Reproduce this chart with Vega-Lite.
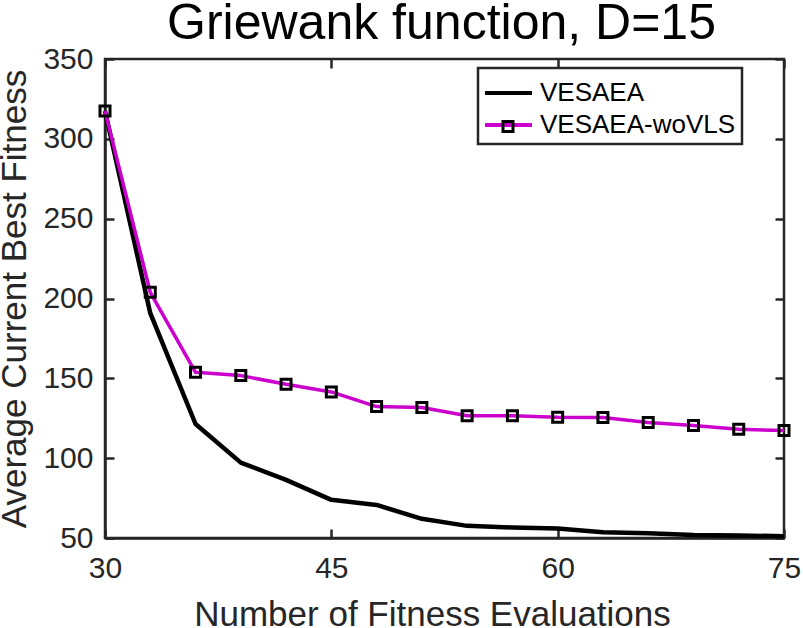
{
  "$schema": "https://vega.github.io/schema/vega-lite/v6.json",
  "width": 679,
  "height": 479,
  "autosize": {"type": "none"},
  "padding": {"left": 105, "top": 59, "right": 19, "bottom": 90},
  "background": "white",
  "title": {
    "text": "Griewank function, D=15",
    "font": "Liberation Sans",
    "fontSize": 50,
    "fontWeight": "normal",
    "color": "#000000",
    "anchor": "middle",
    "baseline": "alphabetic",
    "offset": 21,
    "dy": 66,
    "dx": -3
  },
  "config": {
    "view": {"stroke": "#262626", "strokeWidth": 2.5},
    "axis": {
      "labelFont": "Liberation Sans",
      "titleFont": "Liberation Sans",
      "labelFontSize": 30,
      "titleFontSize": 35,
      "titleFontWeight": "normal",
      "labelColor": "#262626",
      "titleColor": "#262626",
      "domainColor": "#262626",
      "domainWidth": 2.5,
      "tickColor": "#262626",
      "tickWidth": 2.5,
      "tickSize": -9,
      "labelFlush": false,
      "grid": false
    }
  },
  "data": {
    "values": [
      {"evals": 30, "fitness": 317.4, "series": "VESAEA"},
      {"evals": 33, "fitness": 190.8, "series": "VESAEA"},
      {"evals": 36, "fitness": 121.4, "series": "VESAEA"},
      {"evals": 39, "fitness": 97.2, "series": "VESAEA"},
      {"evals": 42, "fitness": 86.4, "series": "VESAEA"},
      {"evals": 45, "fitness": 73.9, "series": "VESAEA"},
      {"evals": 48, "fitness": 70.7, "series": "VESAEA"},
      {"evals": 51, "fitness": 62.0, "series": "VESAEA"},
      {"evals": 54, "fitness": 57.6, "series": "VESAEA"},
      {"evals": 57, "fitness": 56.6, "series": "VESAEA"},
      {"evals": 60, "fitness": 56.0, "series": "VESAEA"},
      {"evals": 63, "fitness": 53.6, "series": "VESAEA"},
      {"evals": 66, "fitness": 52.9, "series": "VESAEA"},
      {"evals": 69, "fitness": 51.9, "series": "VESAEA"},
      {"evals": 72, "fitness": 51.6, "series": "VESAEA"},
      {"evals": 75, "fitness": 51.1, "series": "VESAEA"},
      {"evals": 30, "fitness": 317.4, "series": "VESAEA-woVLS"},
      {"evals": 33, "fitness": 203.9, "series": "VESAEA-woVLS"},
      {"evals": 36, "fitness": 153.8, "series": "VESAEA-woVLS"},
      {"evals": 39, "fitness": 151.7, "series": "VESAEA-woVLS"},
      {"evals": 42, "fitness": 146.3, "series": "VESAEA-woVLS"},
      {"evals": 45, "fitness": 141.5, "series": "VESAEA-woVLS"},
      {"evals": 48, "fitness": 132.3, "series": "VESAEA-woVLS"},
      {"evals": 51, "fitness": 131.7, "series": "VESAEA-woVLS"},
      {"evals": 54, "fitness": 126.6, "series": "VESAEA-woVLS"},
      {"evals": 57, "fitness": 126.6, "series": "VESAEA-woVLS"},
      {"evals": 60, "fitness": 125.6, "series": "VESAEA-woVLS"},
      {"evals": 63, "fitness": 125.4, "series": "VESAEA-woVLS"},
      {"evals": 66, "fitness": 122.3, "series": "VESAEA-woVLS"},
      {"evals": 69, "fitness": 120.4, "series": "VESAEA-woVLS"},
      {"evals": 72, "fitness": 118.1, "series": "VESAEA-woVLS"},
      {"evals": 75, "fitness": 117.3, "series": "VESAEA-woVLS"}
    ]
  },
  "layer": [
    {
      "transform": [{"filter": "datum.series === 'VESAEA'"}],
      "mark": {"type": "line", "strokeWidth": 4.5, "strokeJoin": "round"},
      "encoding": {
        "x": {
          "field": "evals",
          "type": "quantitative",
          "scale": {"domain": [30, 75], "nice": false, "zero": false},
          "axis": {
            "orient": "bottom",
            "values": [30, 45, 60, 75],
            "title": "Number of Fitness Evaluations",
            "labelPadding": 24,
            "titleBaseline": "alphabetic",
            "titleX": 327,
            "titleY": 87
          }
        },
        "y": {
          "field": "fitness",
          "type": "quantitative",
          "scale": {"domain": [50, 350], "nice": false, "zero": false},
          "axis": {
            "orient": "left",
            "values": [50, 100, 150, 200, 250, 300, 350],
            "title": "Average Current Best Fitness",
            "labelPadding": 21,
            "titleBaseline": "alphabetic",
            "titleAngle": -90,
            "titleX": -80,
            "titleY": 239.5,
            "titleAlign": "center"
          }
        },
        "color": {
          "field": "series",
          "type": "nominal",
          "scale": {"domain": ["VESAEA", "VESAEA-woVLS"], "range": ["#000000", "#CC00CC"]},
          "legend": {
            "title": null,
            "orient": "none",
            "legendX": 373,
            "legendY": 9,
            "symbolType": "M-1.06,0H1.706",
            "symbolSize": 1156,
            "symbolStrokeWidth": 4,
            "symbolFillColor": "transparent",
            "labelFont": "Liberation Sans",
            "labelFontSize": 26,
            "labelColor": "#000000",
            "labelLimit": 400,
            "rowPadding": 0,
            "padding": 6,
            "strokeColor": "#262626",
            "fillColor": "white",
            "labelOffset": 18,
            "encode": {"legend": {"update": {"strokeWidth": {"value": 2.5}}}}
          }
        }
      }
    },
    {
      "transform": [{"filter": "datum.series === 'VESAEA-woVLS'"}],
      "mark": {"type": "line", "strokeWidth": 3.5, "strokeJoin": "round"},
      "encoding": {
        "x": {"field": "evals", "type": "quantitative", "axis": {"orient": "top", "values": [30, 45, 60, 75], "labels": false, "title": null, "domain": false}},
        "y": {"field": "fitness", "type": "quantitative", "axis": {"orient": "right", "values": [50, 100, 150, 200, 250, 300, 350], "labels": false, "title": null, "domain": false}},
        "color": {"field": "series", "type": "nominal"}
      }
    },
    {
      "transform": [{"filter": "datum.series === 'VESAEA-woVLS'"}],
      "mark": {"type": "point", "filled": false, "stroke": "#000000", "strokeWidth": 3, "size": 100, "opacity": 1},
      "encoding": {
        "x": {"field": "evals", "type": "quantitative", "axis": null},
        "y": {"field": "fitness", "type": "quantitative", "axis": null},
        "shape": {
          "field": "series",
          "type": "nominal",
          "scale": {"domain": ["VESAEA-woVLS"], "range": ["square"]},
          "legend": {
            "title": null,
            "orient": "none",
            "legendX": 396.5,
            "legendY": 61,
            "padding": 0,
            "symbolSize": 100,
            "symbolStrokeColor": "#000000",
            "symbolStrokeWidth": 3,
            "symbolFillColor": "transparent",
            "labelExpr": "''",
            "labelFontSize": 1,
            "labelOffset": 0
          }
        }
      }
    }
  ],
  "resolve": {"axis": {"x": "independent", "y": "independent"}}
}
